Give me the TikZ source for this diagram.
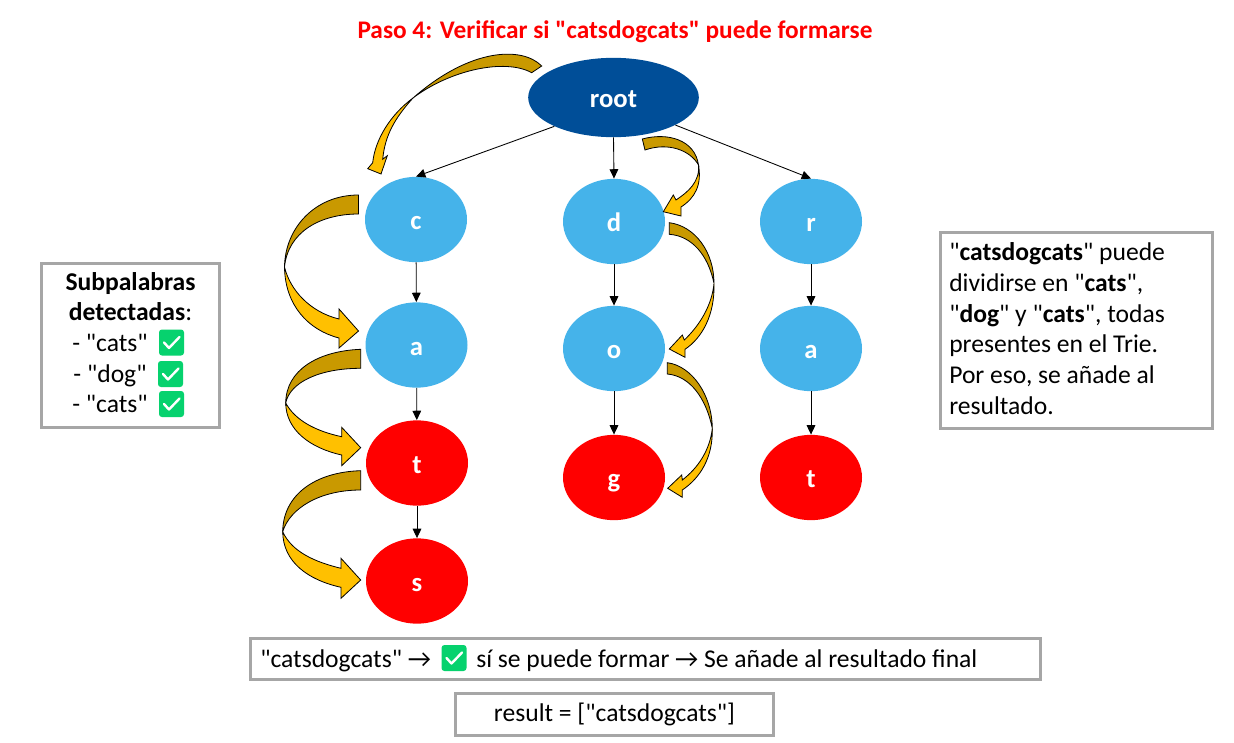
\documentclass[tikz,border=0pt]{standalone}
\usepackage{fontspec}
\setmainfont{Carlito}[Ligatures=TeXOff]
\usetikzlibrary{shapes.geometric,arrows.meta}
\definecolor{rootblue}{HTML}{004E98}
\definecolor{skyblue}{HTML}{45B3EA}
\definecolor{gold}{HTML}{FFC000}
\definecolor{golddark}{HTML}{C99900}
\definecolor{boxgray}{HTML}{A6A6A6}
\definecolor{okgreen}{HTML}{06D26E}
\newcommand{\txt}{\fontsize{19.2}{23}\selectfont}
\tikzset{
  x=0.75pt,y=-0.75pt,
  trienode/.style={shape=ellipse,inner sep=0pt,minimum width=76.5pt,minimum height=64pt,text=white,font=\fontsize{20}{24}\selectfont\bfseries,text height=15pt,text depth=0pt},
  bluenode/.style={trienode,fill=skyblue},
  rednode/.style={trienode,fill=red},
  link/.style={draw=black,line width=0.65pt,-{Triangle[length=7pt,width=6.5pt]}},
  infobox/.style={draw=boxgray,line width=2.25pt,fill=white,inner sep=0pt,font=\txt,text=black},
  bandDark/.style={draw=black,line width=0.6pt,fill=golddark},
  bandLight/.style={draw=black,line width=0.6pt,fill=gold},
  okmark/.pic={
    \fill[okgreen,rounded corners=2.2pt] (-12.5,-13) rectangle (12.5,13);
    \draw[white,line width=1.8pt,line cap=round,line join=round] (-7.5,0) -- (-2.5,5.5) -- (8,-5.5);
  }
}
\begin{document}
\begin{tikzpicture}
\useasboundingbox (0,0) rectangle (1234,742);

\node[font=\fontsize{19}{23}\selectfont\bfseries,text=red] (title) at (615,31.5) {Paso 4: Verificar si "catsdogcats" puede formarse};

% trie nodes
\node[trienode,fill=rootblue,minimum width=128pt,minimum height=59.5pt] (root) at (613.5,97.5) {root};
\node[bluenode] (c) at (416,219.5) {c};
\node[bluenode] (a1) at (416.5,345) {a};
\node[rednode] (t1) at (417,463) {t};
\node[rednode] (s) at (417,581) {s};
\node[bluenode] (d) at (614,221.5) {d};
\node[bluenode] (o) at (614,348.5) {o};
\node[rednode] (g) at (614,477.5) {g};
\node[bluenode] (r) at (811,221.5) {r};
\node[bluenode] (a2) at (811,348.5) {a};
\node[rednode] (t2) at (811,477.5) {t};

% edges
\draw[link] (root.206) -- (c.north);
\draw[link] (root.south) -- (d.north);
\draw[link] (root.-24) -- (r.north);
\draw[link] (c) -- (a1);
\draw[link] (a1) -- (t1);
\draw[link] (t1) -- (s);
\draw[link] (d) -- (o);
\draw[link] (o) -- (g);
\draw[link] (r) -- (a2);
\draw[link] (a2) -- (t2);

% curved arrows: root -> c
\draw[bandDark] (541.7,66) .. controls (522,46) and (470,48) .. (413,98) .. controls (450,70) and (505,58) .. (531.7,72.7) -- cycle;
\draw[bandLight] (413,98) .. controls (390,115) and (375,140) .. (372.7,162.7) -- (367.7,168.7) -- (381,174) -- (387.3,155.7) -- (382.7,159.3) .. controls (385,135) and (395,118) .. (413,98) -- cycle;
% c -> a
\draw[bandDark] (358.5,195) .. controls (315,195) and (285,228) .. (284.5,267) .. controls (288,232) and (320,214) .. (358.5,214) -- cycle;
\draw[bandLight] (284.5,267) .. controls (285,305) and (308,330) .. (339,338) -- (339,348) -- (358.5,331) -- (339,309) -- (339,319) .. controls (310,312) and (290,290) .. (284.5,267) -- cycle;
% a -> t
\draw[bandDark] (360.7,349.3) .. controls (318,351) and (286,370) .. (285.7,403) .. controls (290,382) and (320,368.3) .. (360.7,368.3) -- cycle;
\draw[bandLight] (285.7,403) .. controls (286,430) and (310,448) .. (341.7,455) -- (341.7,465.7) -- (360.7,447.7) -- (341.7,427.3) -- (341.7,436.7) .. controls (315,431) and (295,420) .. (285.7,403) -- cycle;
% t -> s
\draw[bandDark] (360.7,470.7) .. controls (315,472) and (283,495) .. (282.7,531.7) .. controls (290,508) and (320,490) .. (360.7,490) -- cycle;
\draw[bandLight] (282.7,531.7) .. controls (283,562) and (308,580) .. (341,587.3) -- (341,598.3) -- (360.7,580) -- (341,558.3) -- (341,568.3) .. controls (315,562) and (292,552) .. (282.7,531.7) -- cycle;
% root -> d
\draw[bandDark] (642.3,139) .. controls (668,132) and (695,140) .. (698.5,165) .. controls (690,150) and (668,142) .. (645,150) -- cycle;
\draw[bandLight] (698.5,165) .. controls (702,185) and (695,198) .. (681,207) -- (681,216) -- (663.3,211.7) -- (673.3,195) -- (676,200) .. controls (688,192) and (700,182) .. (698.5,165) -- cycle;
% d -> o
\draw[bandDark] (669.3,222.7) .. controls (695,226) and (714,252) .. (714,283.3) .. controls (708,255) and (692,236) .. (669.3,234.3) -- cycle;
\draw[bandLight] (714,283.3) .. controls (715,315) and (702,338) .. (685,349.3) -- (685,357.3) -- (669.3,349) -- (682.3,335) -- (684.3,340) .. controls (700,325) and (712,305) .. (714,283.3) -- cycle;
% o -> g
\draw[bandDark] (667.3,362.7) .. controls (692,366) and (712,395) .. (712.3,428.3) .. controls (706,398) and (690,376) .. (667.3,374) -- cycle;
\draw[bandLight] (712.3,428.3) .. controls (713,458) and (700,478) .. (682.3,490) -- (682.3,497.3) -- (667.7,488.3) -- (681.7,475) -- (682.3,480) .. controls (698,468) and (710,450) .. (712.3,428.3) -- cycle;

% left box
\node[infobox,minimum width=134pt,minimum height=123.5pt] (subbox) at (130.5,345.5) {};
\node[font=\txt\bfseries,anchor=base] (subhead) at (130.5,290) {Subpalabras};
\node[font=\txt,anchor=base] (sub0) at (130.5,320) {\textbf{detectadas}:};
\node[font=\txt,anchor=base] (sub1) at (110,351.5) {- "cats"};
\node[font=\txt,anchor=base] (sub2) at (110,382) {- "dog"};
\node[font=\txt,anchor=base] (sub3) at (110,412.5) {- "cats"};
\pic at (171.5,342.5) {okmark};
\pic at (170.5,374) {okmark};
\pic at (171.5,404) {okmark};

% right box
\node[infobox,minimum width=204pt,minimum height=147pt] (rightbox) at (1076,330) {};
\node[font=\txt,align=left,anchor=base west,inner sep=0pt] (righttext) at (949,414) {"\textbf{catsdogcats}" puede\\dividirse en "\textbf{cats}",\\"\textbf{dog}" y "\textbf{cats}", todas\\presentes en el Trie.\\Por eso, se añade al\\resultado.};

% bottom boxes
\node[infobox,minimum width=593pt,minimum height=31pt] (finalbox) at (645.5,659) {};
\node[font=\txt,anchor=base west,inner sep=0pt] (final1) at (260,667) {"catsdogcats" →};
\node[font=\txt,anchor=base west,inner sep=0pt] (final2) at (476,667) {sí se puede formar → Se añade al resultado final};
\pic at (454,658) {okmark};
\node[infobox,minimum width=239pt,minimum height=31.5pt] (resultbox) at (614.5,714) {result = ["catsdogcats"]};
\end{tikzpicture}
\end{document}
